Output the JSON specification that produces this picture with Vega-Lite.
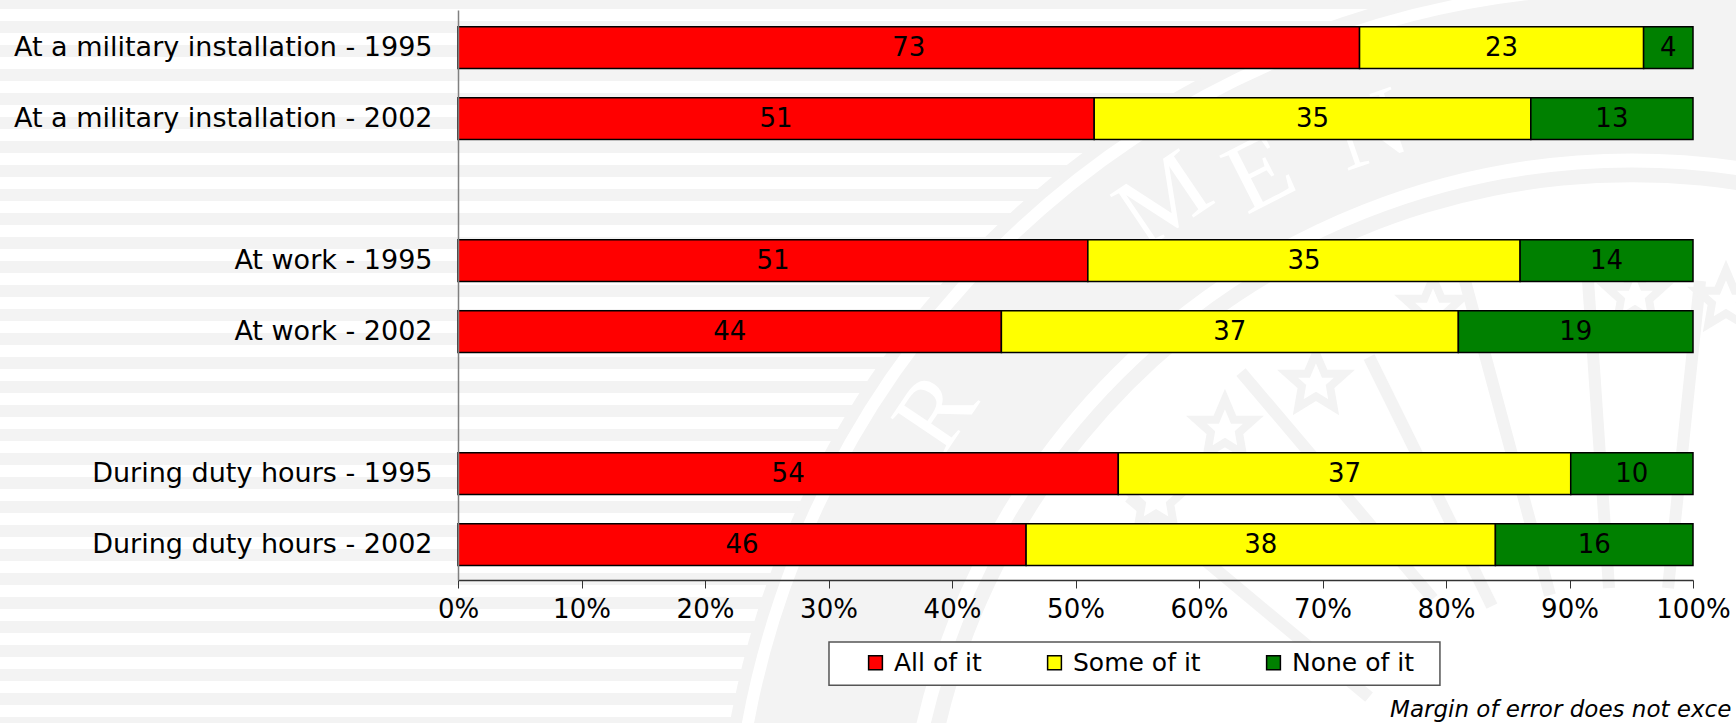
{"$schema":"https://vega.github.io/schema/vega-lite/v6.json","width":1235,"height":570,"autosize":"none","padding":{"left":458,"top":10,"right":43,"bottom":143},"background":"#f3f3f3","config":{"view":{"stroke":null},"text":{"font":"DejaVu Sans"}},"resolve":{"scale":{"y":"independent"},"axis":{"y":"independent"}},"layer":[{"layer":[{"data":{"values":[{"s":0,"e":0.5},{"s":1,"e":1.5},{"s":2,"e":2.5},{"s":3,"e":3.5},{"s":4,"e":4.5},{"s":5,"e":5.5},{"s":6,"e":6.5},{"s":7,"e":7.5},{"s":8,"e":8.5},{"s":9,"e":9.5},{"s":10,"e":10.5},{"s":11,"e":11.5},{"s":12,"e":12.5},{"s":13,"e":13.5},{"s":14,"e":14.5},{"s":15,"e":15.5},{"s":16,"e":16.5},{"s":17,"e":17.5},{"s":18,"e":18.5},{"s":19,"e":19.5},{"s":20,"e":20.5},{"s":21,"e":21.5},{"s":22,"e":22.5},{"s":23,"e":23.5},{"s":24,"e":24.5},{"s":25,"e":25.5},{"s":26,"e":26.5},{"s":27,"e":27.5},{"s":28,"e":28.5},{"s":29,"e":29.5}]},"mark":{"type":"rect","fill":"#ffffff"},"encoding":{"x":{"datum":-0.371,"type":"quantitative","scale":{"domain":[0,1]}},"x2":{"datum":0.9506},"y":{"field":"s","type":"quantitative","scale":{"domain":[0.0417,23.79],"reverse":true,"nice":false,"zero":false},"axis":null},"y2":{"field":"e"}}},{"data":{"values":[{"seal":1}]},"layer":[{"mark":{"type":"point","shape":"circle","filled":true,"fill":"#f3f3f3","opacity":1,"size":3363556}},{"mark":{"type":"point","shape":"circle","filled":false,"stroke":"#ffffff","strokeWidth":12,"opacity":1,"size":3232804}},{"mark":{"type":"point","shape":"circle","filled":false,"stroke":"#ffffff","strokeWidth":14,"opacity":1,"size":2114116}},{"mark":{"type":"point","shape":"circle","filled":true,"fill":"#ffffff","opacity":1,"size":1988100}}],"encoding":{"x":{"datum":0.9506,"type":"quantitative"},"y":{"datum":36.6,"type":"quantitative"}}},{"data":{"values":[{"a":0.8154,"b":0.8842,"c":11.33,"d":24.42},{"a":0.915,"b":0.932,"c":11.33,"d":24.125},{"a":1.0057,"b":0.9798,"c":11.33,"d":24.125},{"a":0.7377,"b":0.8372,"c":14.5,"d":24.875},{"a":0.634,"b":0.7895,"c":15.125,"d":24.58},{"a":0.5433,"b":0.7377,"c":20.33,"d":28.67}]},"mark":{"type":"rule","stroke":"#f3f3f3","strokeWidth":12},"encoding":{"x":{"field":"a","type":"quantitative"},"x2":{"field":"b"},"y":{"field":"c","type":"quantitative"},"y2":{"field":"d"}}},{"data":{"values":[{"a":0.6947,"c":15.58},{"a":0.621,"c":17.5},{"a":0.7895,"c":12.46},{"a":0.953,"c":11.96},{"a":1.0267,"c":12.125},{"a":0.5652,"c":20.46}]},"mark":{"type":"point","shape":"M0,-1L0.29,-0.31L0.95,-0.31L0.47,0.12L0.59,0.81L0,0.45L-0.59,0.81L-0.47,0.12L-0.95,-0.31L-0.29,-0.31Z","filled":false,"fill":"#ffffff","fillOpacity":1,"stroke":"#f3f3f3","strokeWidth":8,"opacity":1,"size":3600},"encoding":{"x":{"field":"a","type":"quantitative"},"y":{"field":"c","type":"quantitative"}}},{"data":{"values":[{"l":"M","a":0.5717,"c":8.0,"r":-34},{"l":"E","a":0.6494,"c":6.9,"r":-27},{"l":"N","a":0.7385,"c":5.1,"r":-19},{"l":"R","a":0.3879,"c":16.8,"r":-56}]},"mark":{"type":"text","font":"Liberation Serif","fontSize":100,"color":"#ffffff","baseline":"middle"},"encoding":{"x":{"field":"a","type":"quantitative"},"y":{"field":"c","type":"quantitative"},"text":{"field":"l"},"angle":{"field":"r","type":"quantitative","scale":null}}},{"data":{"values":[{"box":1}]},"mark":{"type":"rect","fill":"#ffffff","stroke":"#555555","strokeWidth":1.5},"encoding":{"x":{"datum":0.3004,"type":"quantitative"},"x2":{"datum":0.7951},"y":{"datum":26.375,"type":"quantitative"},"y2":{"datum":28.17}}},{"data":{"values":[{"note":"Margin of error does not exce"}]},"mark":{"type":"text","align":"left","baseline":"alphabetic","font":"DejaVu Sans","fontStyle":"italic","fontSize":23,"color":"#000000"},"encoding":{"x":{"datum":0.7547,"type":"quantitative"},"y":{"datum":29.5,"type":"quantitative"},"text":{"field":"note"}}}]},{"data":{"values":[{"row":"At a military installation - 1995","share":"All of it","ord":1,"v":73},{"row":"At a military installation - 1995","share":"Some of it","ord":2,"v":23},{"row":"At a military installation - 1995","share":"None of it","ord":3,"v":4},{"row":"At a military installation - 2002","share":"All of it","ord":1,"v":51},{"row":"At a military installation - 2002","share":"Some of it","ord":2,"v":35},{"row":"At a military installation - 2002","share":"None of it","ord":3,"v":13},{"row":"At work - 1995","share":"All of it","ord":1,"v":51},{"row":"At work - 1995","share":"Some of it","ord":2,"v":35},{"row":"At work - 1995","share":"None of it","ord":3,"v":14},{"row":"At work - 2002","share":"All of it","ord":1,"v":44},{"row":"At work - 2002","share":"Some of it","ord":2,"v":37},{"row":"At work - 2002","share":"None of it","ord":3,"v":19},{"row":"During duty hours - 1995","share":"All of it","ord":1,"v":54},{"row":"During duty hours - 1995","share":"Some of it","ord":2,"v":37},{"row":"During duty hours - 1995","share":"None of it","ord":3,"v":10},{"row":"During duty hours - 2002","share":"All of it","ord":1,"v":46},{"row":"During duty hours - 2002","share":"Some of it","ord":2,"v":38},{"row":"During duty hours - 2002","share":"None of it","ord":3,"v":16}]},"encoding":{"y":{"field":"row","type":"nominal","title":null,"sort":null,"scale":{"domain":["At a military installation - 1995","At a military installation - 2002"," ","At work - 1995","At work - 2002","  ","During duty hours - 1995","During duty hours - 2002"],"paddingInner":0.41,"paddingOuter":0.219,"align":0.535},"axis":{"orient":"left","zindex":1,"ticks":false,"labelPadding":26,"labelFont":"DejaVu Sans","labelFontSize":27,"labelColor":"#000000","labelLimit":0,"domainColor":"#808080","domainWidth":1.5,"grid":false}},"order":{"field":"ord","type":"quantitative"}},"layer":[{"mark":{"type":"bar","stroke":"#000000","strokeWidth":1.5},"encoding":{"x":{"field":"v","type":"quantitative","stack":"normalize","title":null,"scale":{"domain":[0,1]},"axis":{"zindex":1,"values":[0,0.1,0.2,0.3,0.4,0.5,0.6,0.7,0.8,0.9,1],"format":".0%","grid":false,"tickSize":8,"tickColor":"#333333","domainColor":"#333333","domainWidth":1.5,"labelFont":"DejaVu Sans","labelFontSize":26,"labelColor":"#000000","labelPadding":8,"labelFlush":false,"labelOverlap":false}},"color":{"field":"share","type":"nominal","scale":{"domain":["All of it","Some of it","None of it"],"range":["#ff0000","#ffff00","#008000"]},"legend":{"title":null,"orient":"none","legendX":405,"legendY":640,"direction":"horizontal","columns":3,"columnPadding":60,"symbolType":"square","symbolSize":190,"symbolStrokeColor":"#000000","symbolStrokeWidth":1.5,"labelFont":"DejaVu Sans","labelFontSize":25,"labelColor":"#000000","labelOffset":6,"padding":0,"labelLimit":0}}}},{"mark":{"type":"text","baseline":"middle","fontSize":26,"font":"DejaVu Sans","color":"#000000"},"encoding":{"x":{"field":"v","type":"quantitative","stack":"normalize","bandPosition":0.5},"detail":{"field":"share"},"text":{"field":"v","type":"quantitative"}}}]}]}
